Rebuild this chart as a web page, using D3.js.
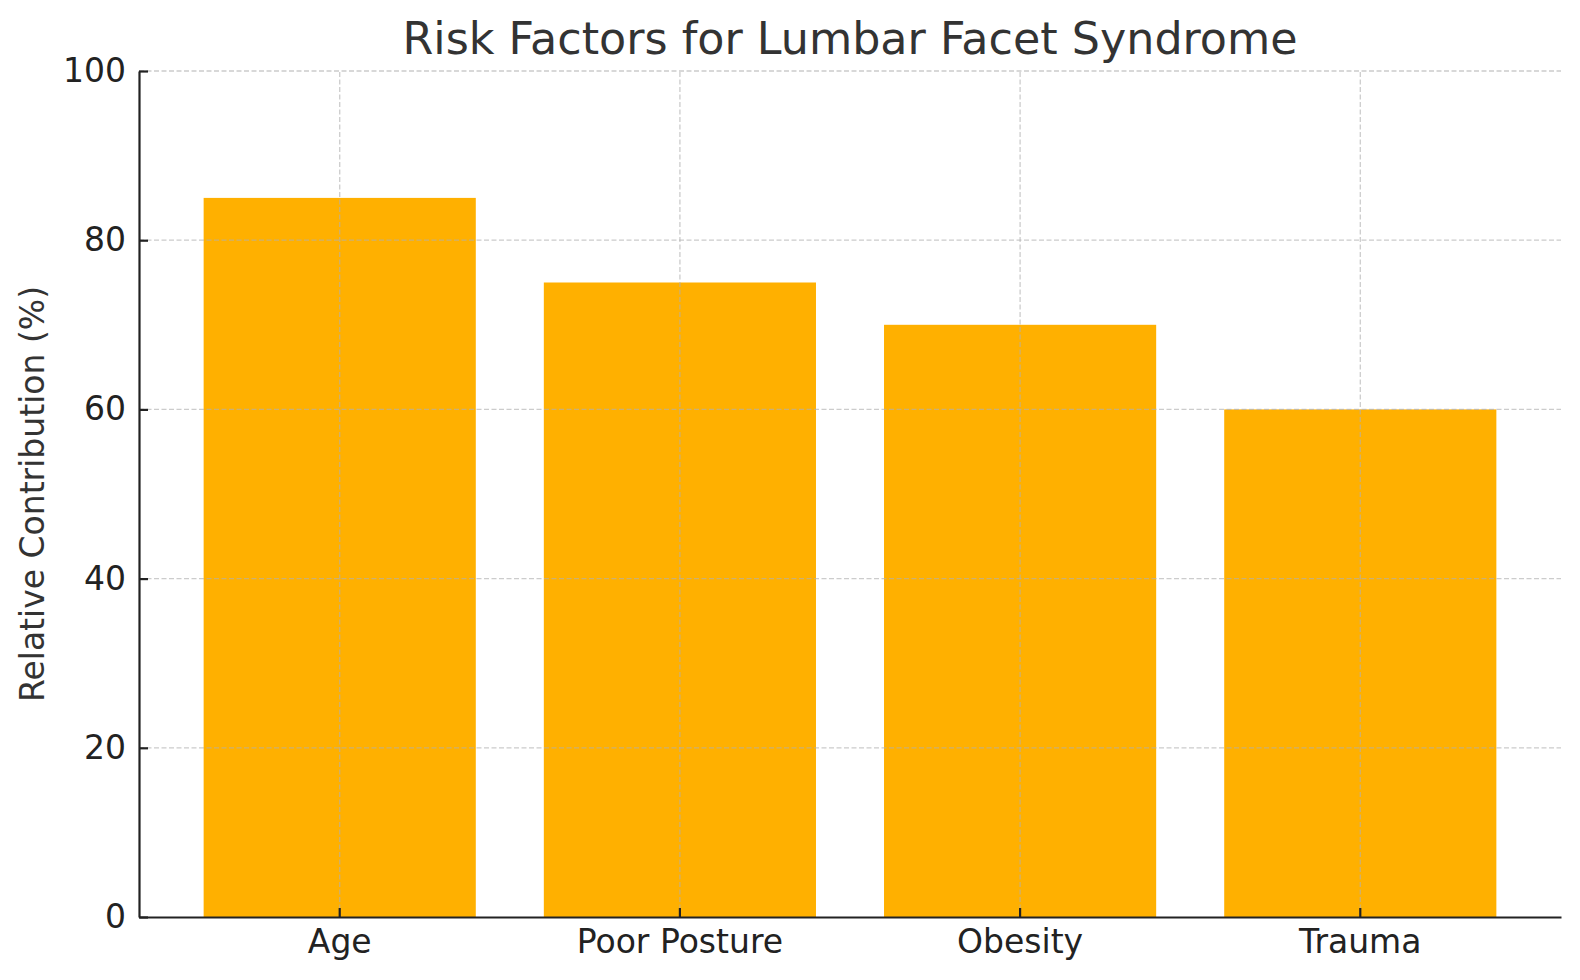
<!DOCTYPE html>
<html>
<head>
<meta charset="utf-8">
<script src="https://cdn.jsdelivr.net/npm/d3@7"></script>
<style>
  html, body { margin: 0; padding: 0; background: #fff; }
  svg { display: block; }
  text { font-family: "DejaVu Sans", sans-serif; }
</style>
</head>
<body>
<svg id="chart" width="1580" height="980"></svg>
<script>
const categories = ["Age", "Poor Posture", "Obesity", "Trauma"];
const values = [85, 75, 70, 60];
const yTicks = [0, 20, 40, 60, 80, 100];
const titleText = "Risk Factors for Lumbar Facet Syndrome";
const yLabelText = "Relative Contribution (%)";

const W = 1580, H = 980;
const m = { left: 139, right: 19, top: 71, bottom: 63 };
const svg = d3.select("#chart");

const x = d3.scaleBand()
  .domain(categories)
  .range([m.left, W - m.right])
  .paddingInner(0.2)
  .paddingOuter(0.19);

const y = d3.scaleLinear().domain([0, 100]).range([H - m.bottom, m.top]);

// bars
svg.append("g").selectAll("rect")
  .data(categories.map((c, i) => ({ c, v: values[i] })))
  .join("rect")
  .attr("x", d => x(d.c))
  .attr("width", x.bandwidth())
  .attr("y", d => y(d.v))
  .attr("height", d => y(0) - y(d.v))
  .attr("fill", "#ffb000");

// grid (on top of bars)
const grid = svg.append("g").attr("stroke", "#b0b0b0").attr("stroke-opacity", 0.65)
  .attr("stroke-width", 1.3).attr("stroke-dasharray", "5,2.5");
grid.selectAll("line.h").data(yTicks.filter(t => t > 0)).join("line")
  .attr("x1", m.left).attr("x2", W - m.right)
  .attr("y1", d => y(d)).attr("y2", d => y(d));
grid.selectAll("line.v").data(categories).join("line")
  .attr("x1", d => x(d) + x.bandwidth() / 2).attr("x2", d => x(d) + x.bandwidth() / 2)
  .attr("y1", y(0)).attr("y2", m.top);

// axes
const xAxis = d3.axisBottom(x).tickSizeInner(-9).tickSizeOuter(0).tickPadding(13);
const gx = svg.append("g").attr("transform", `translate(0,${y(0)})`).call(xAxis);
gx.select(".domain").attr("stroke", "#222").attr("stroke-width", 2.2);
gx.selectAll(".tick line").attr("stroke", "#222").attr("stroke-width", 2.2);
gx.selectAll(".tick text").attr("font-size", 33).attr("fill", "#222")
  .attr("font-family", "DejaVu Sans, sans-serif");

const yAxis = d3.axisLeft(y).tickValues(yTicks).tickSizeInner(-9).tickSizeOuter(0).tickPadding(13);
const gy = svg.append("g").attr("transform", `translate(${m.left},0)`).call(yAxis);
gy.select(".domain").attr("stroke", "#222").attr("stroke-width", 2.2);
gy.selectAll(".tick line").attr("stroke", "#222").attr("stroke-width", 2.2);
gy.selectAll(".tick text").attr("font-size", 33).attr("fill", "#222")
  .attr("font-family", "DejaVu Sans, sans-serif");

// title
svg.append("text")
  .attr("x", (m.left + W - m.right) / 2)
  .attr("y", 54)
  .attr("text-anchor", "middle")
  .attr("font-size", 44.4)
  .attr("fill", "#333")
  .text(titleText);

// y label
svg.append("text")
  .attr("transform", `translate(44,${(y(0) + y(100)) / 2}) rotate(-90)`)
  .attr("text-anchor", "middle")
  .attr("font-size", 33)
  .attr("fill", "#333")
  .text(yLabelText);
</script>
</body>
</html>
